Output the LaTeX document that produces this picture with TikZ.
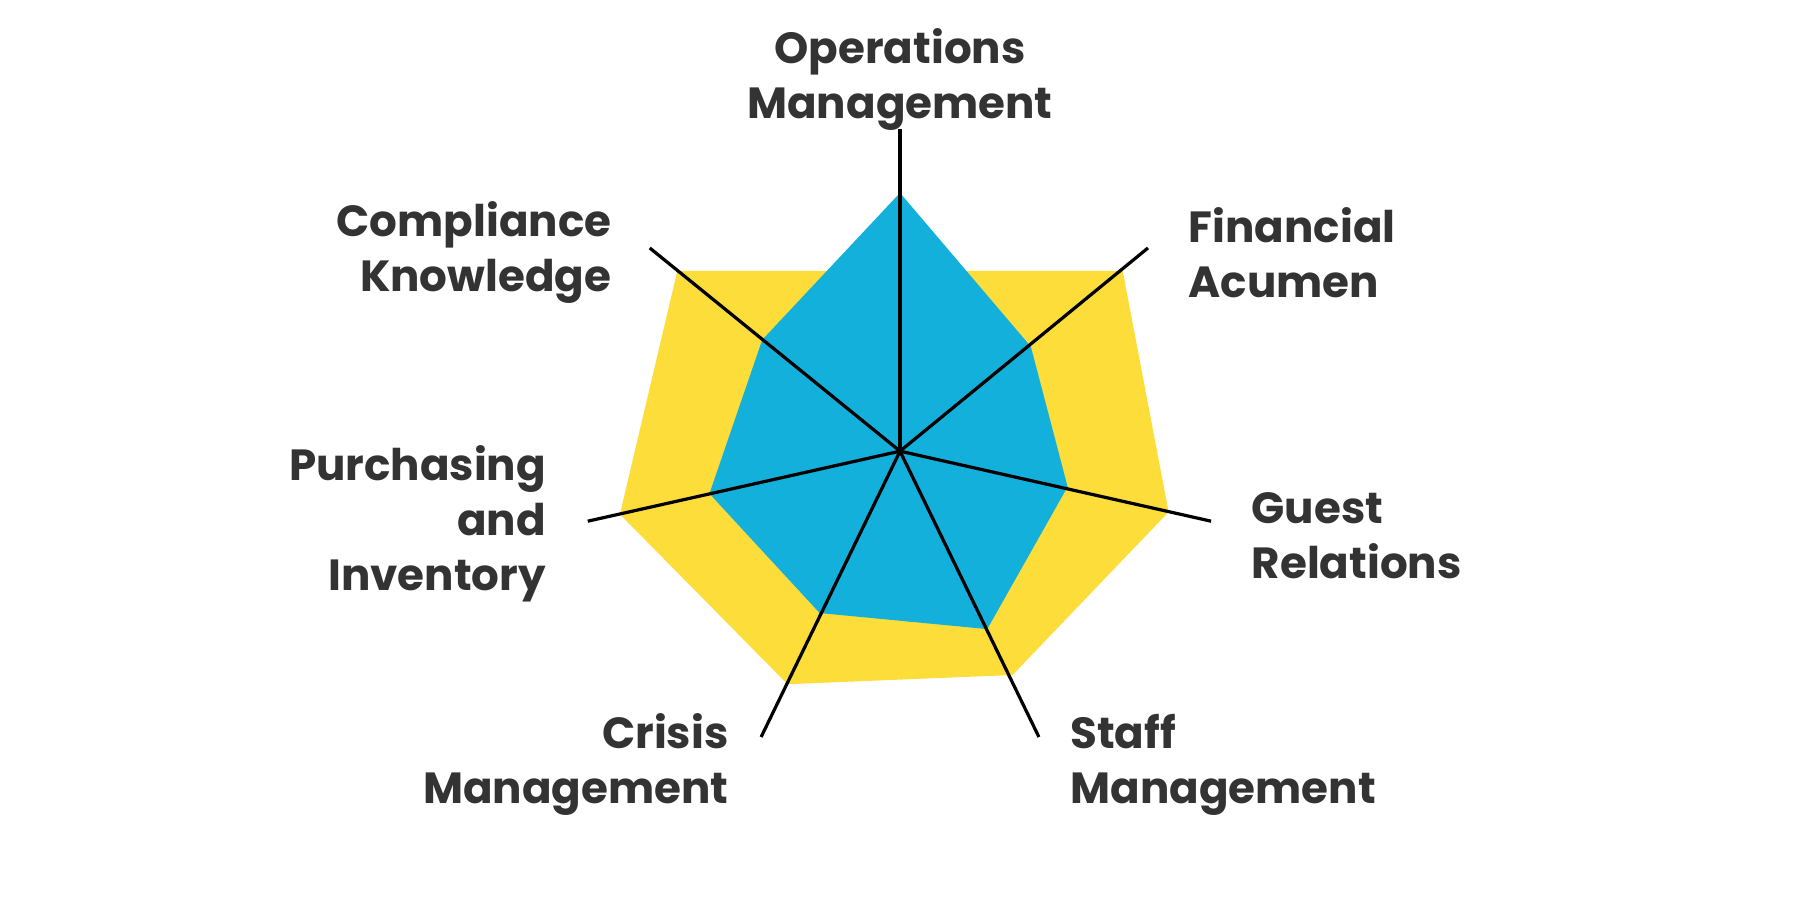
\documentclass[tikz,border=0pt]{standalone}
\usepackage{fontspec}
\setmainfont{Poppins}
\definecolor{ylw}{HTML}{FDDD3A}
\definecolor{blu}{HTML}{12B0DA}
\definecolor{txt}{HTML}{333333}
\begin{document}
\begin{tikzpicture}[x=0.5pt,y=-0.5pt,
  lbl/.style={text=txt,font=\fontsize{19}{24}\selectfont\bfseries,inner sep=0pt},
  axis/.style={line width=1.4pt,black}]
\useasboundingbox (0,0) rectangle (1568,784);
\coordinate (c) at (784,393);
\fill[ylw,line join=round] (784,236) -- (978,236) -- (1018,446) -- (882,588) -- (686,596) -- (540,448) -- (590,236) -- cycle;
\fill[blu,line join=round] (784,168) -- (898,302) -- (930,424) -- (860,548) -- (714,534) -- (618,430) -- (664,296) -- cycle;
\coordinate (e1) at (784,112);
\coordinate (e2) at (1000,216);
\coordinate (e3) at (1055,454);
\coordinate (e4) at (905,642);
\coordinate (e5) at (663,642);
\coordinate (e6) at (512,454);
\coordinate (e7) at (566,216);
\foreach \e in {e1,e2,e3,e4,e5,e6,e7} \draw[axis] (c) -- (\e);
\node[lbl,align=center,anchor=south] (l1) at (784,114) {Operations\\Management};
\node[lbl,align=left,anchor=west] (l2) at (1035,220) {Financial\\Acumen};
\node[lbl,align=left,anchor=west] (l3) at (1090,467) {Guest\\Relations};
\node[lbl,align=left,anchor=west] (l4) at (932,666) {Staff\\Management};
\node[lbl,align=right,anchor=east] (l5) at (635,666) {Crisis\\Management};
\node[lbl,align=right,anchor=east] (l6) at (476,456) {Purchasing\\and\\Inventory};
\node[lbl,align=right,anchor=east] (l7) at (533,220) {Compliance\\Knowledge};
\end{tikzpicture}
\end{document}
